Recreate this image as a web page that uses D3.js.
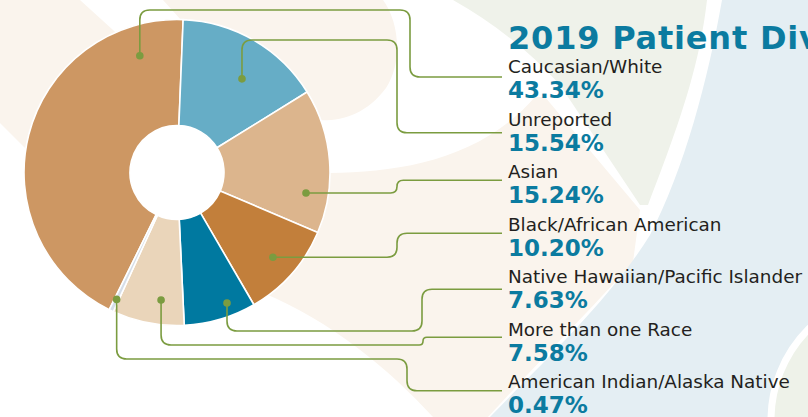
<!DOCTYPE html>
<html><head><meta charset="utf-8">
<script src="https://cdn.jsdelivr.net/npm/d3@7"></script>
<style>html,body{margin:0;padding:0;background:#fff;overflow:hidden}</style>
</head><body><svg id="chart" width="808" height="417"></svg>
<script>
// ---- data ----
const categories = ["Caucasian/White","Unreported","Asian","Black/African American","Native Hawaiian/Pacific Islander","More than one Race","American Indian/Alaska Native"];
const percentages = [43.34,15.54,15.24,10.20,7.63,7.58,0.47];
const sliceColors = ["#CD9763","#66ADC6","#DCB58D","#C27F3B","#0079A0","#EAD5BA","#D6DEE8"];
const titleText = "2019 Patient Diversity";

// ---- callout layout (annotation placement, not data) ----
const calloutT = [0.872,0.58,0.743,0.5,0.335,0.36,0.5];
const calloutR = [122.5,114,130.6,128,139.7,128.5,140.5];
const calloutRoute = ["up","up","side","side","down","down","down"];
const calloutVia = [10,40,null,null,331,345,359];
const calloutColX = [410,397,397,397,422,423,407];
const calloutLineY = [77,132.7,180.3,233.3,289.3,337.3,390.7];

const W = 808, H = 417;
const cx = 177, cy = 172.5, R = 153, r0 = 47;
const textX = 508, lineEndX = 502, rowY0 = 73, rowStep = 52.5;
const teal = "#0B7BA0", green = "#7B9C40";

const svg = d3.select("#chart");

// ---- decorative background ----
const bg = svg.append("g");
bg.append("rect").attr("width",W).attr("height",H).attr("fill","#fff");
bg.append("path").attr("fill","#FAF4ED")
  .attr("d","M0,0 L80,0 L135,50 L250,130 L330,173 C400,172 480,160 535,97 L545,97 L640,210 L633,262 C600,300 545,355 488,417 L433,417 C390,370 330,320 263,293 C180,260 80,200 24,147 L0,123 Z");
bg.append("path").attr("fill","#FAF4ED")
  .attr("d","M163,0 L383,0 C398,20 404,60 386,88 C366,115 340,122 315,120 L230,90 L190,30 Z");
bg.append("path").attr("fill","#EFF2EA")
  .attr("d","M453,0 L707,0 C700,60 685,110 648,205 L640,205 L560,85 Q515,35 453,0 Z");
bg.append("path").attr("fill","#E4EEF3")
  .attr("d","M722,0 C708,80 684,170 650,235 C610,300 540,365 490,417 L808,417 L808,0 Z");
bg.append("circle").attr("cx",900).attr("cy",420).attr("r",129)
  .attr("fill","#EEF2E9").attr("stroke","#fff").attr("stroke-width",7);

// ---- donut ----
const total = d3.sum(percentages);
const startA = (2.3 - percentages[0]/total*360) * Math.PI/180;
const pie = d3.pie().sort(null).value(d => d).startAngle(startA).endAngle(startA + 2*Math.PI);
const arcs = pie(percentages);
const arc = d3.arc().innerRadius(r0).outerRadius(R);
const g = svg.append("g").attr("transform",`translate(${cx},${cy})`);
g.append("circle").attr("r",r0).attr("fill","#fff");
g.selectAll("path.slice").data(arcs).join("path")
  .attr("class","slice")
  .attr("d",arc)
  .attr("fill",(d,i)=>sliceColors[i])
  .attr("stroke","#fff").attr("stroke-width",1.6).attr("stroke-linejoin","round");

// ---- callouts ----
function roundedPath(pts, rad){
  let d = `M${pts[0][0]},${pts[0][1]}`;
  for(let i=1;i<pts.length-1;i++){
    const [x0,y0]=pts[i-1],[x1,y1]=pts[i],[x2,y2]=pts[i+1];
    const l1=Math.hypot(x1-x0,y1-y0), l2=Math.hypot(x2-x1,y2-y1);
    if(l1===0||l2===0) continue;
    const rr=Math.min(rad,l1/2,l2/2);
    const ax=x1+(x0-x1)/l1*rr, ay=y1+(y0-y1)/l1*rr;
    const bx=x1+(x2-x1)/l2*rr, by=y1+(y2-y1)/l2*rr;
    d+=`L${ax},${ay}Q${x1},${y1} ${bx},${by}`;
  }
  const p=pts[pts.length-1];
  d+=`L${p[0]},${p[1]}`;
  return d;
}
const dots = arcs.map((a,i)=>{
  const ang = a.startAngle + calloutT[i]*(a.endAngle-a.startAngle);
  return [cx + calloutR[i]*Math.sin(ang), cy - calloutR[i]*Math.cos(ang)];
});
const cl = svg.append("g");
dots.forEach((p,i)=>{
  let pts;
  const ly = calloutLineY[i], colX = calloutColX[i];
  if(calloutRoute[i]==="side"){
    pts=[p,[colX,p[1]],[colX,ly],[lineEndX,ly]];
  } else {
    const v = calloutVia[i];
    pts=[p,[p[0],v],[colX,v],[colX,ly],[lineEndX,ly]];
  }
  cl.append("path").attr("d",roundedPath(pts,10))
    .attr("fill","none").attr("stroke",green).attr("stroke-width",1.6);
  cl.append("circle").attr("cx",p[0]).attr("cy",p[1]).attr("r",3.8).attr("fill",green);
});

// ---- text ----
svg.append("text").attr("x",textX).attr("y",48.5)
  .attr("font-family","DejaVu Sans").attr("font-weight","bold")
  .attr("font-size",32).attr("fill",teal).attr("letter-spacing",0.8).text(titleText);
const tg = svg.append("g");
categories.forEach((c,i)=>{
  const y = rowY0 + i*rowStep;
  tg.append("text").attr("x",textX).attr("y",y)
    .attr("font-family","DejaVu Sans").attr("font-size",18.4).attr("fill","#231F20")
    .text(c);
  tg.append("text").attr("x",textX).attr("y",y+25)
    .attr("font-family","DejaVu Sans").attr("font-weight","bold").attr("font-size",23)
    .attr("fill",teal).text(d3.format(".2f")(percentages[i])+"%");
});
</script></body></html>
